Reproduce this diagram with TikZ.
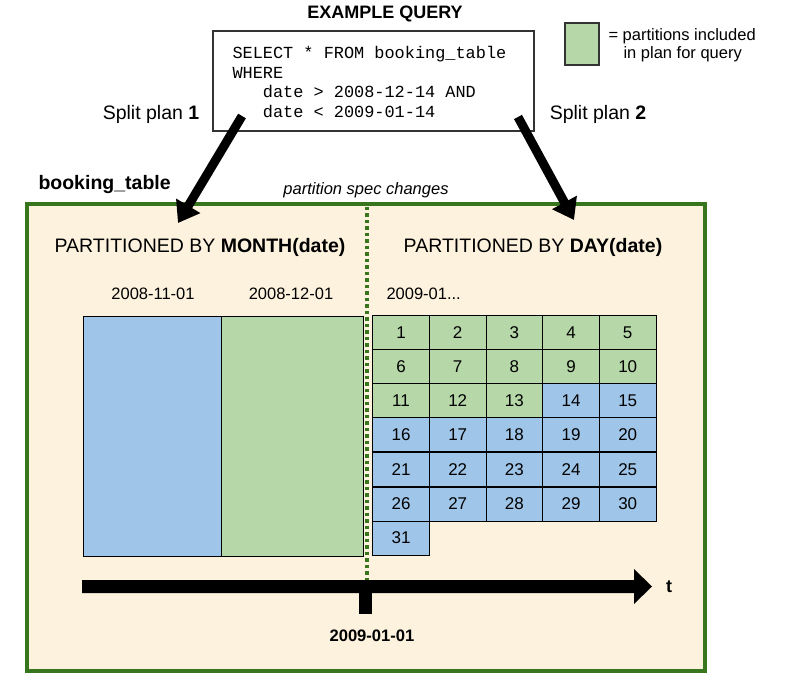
\documentclass[tikz,border=0pt]{standalone}
\usepackage{fontspec}
\setmainfont{Liberation Sans}
\setmonofont{Liberation Mono}
\usetikzlibrary{arrows.meta}
\definecolor{hitgreen}{HTML}{B6D7A8}
\definecolor{skipblue}{HTML}{9FC5E8}
\definecolor{tablebg}{HTML}{FCF2DE}
\definecolor{specgreen}{HTML}{38761D}
\definecolor{inkgrey}{HTML}{333333}
\begin{document}
\begin{tikzpicture}[x=1pt, y=-1pt, draw=black, fill=skipblue, line width=1pt,
	font=\fontsize{17}{20}\selectfont, every node/.style={inner sep=0pt},
	big/.style={font=\fontsize{19.5}{23}\selectfont},
	small/.style={font=\fontsize{16.5}{18.5}\selectfont},
	planarrow/.style={line width=9pt, -{Triangle[width=27pt,length=20pt]}}]
	\fill[white] (0,0) rectangle (790,684);
	\useasboundingbox (0,0) rectangle (790,684);
	% query and legend
	\node[font=\bfseries\fontsize{18}{21}\selectfont] (title) at (385,14) {EXAMPLE QUERY};
	\node[draw=inkgrey, line width=2pt, minimum width=321pt, minimum height=100pt] (query) at (373.5,81) {};
	\node[anchor=north west, align=left, font=\ttfamily\fontsize{16.9}{19.5}\selectfont] (sql) at (232,46)
		{SELECT * FROM booking\_table\\WHERE\\\phantom{xxx}date > 2008-12-14 AND\\\phantom{xxx}date < 2009-01-14};
	\filldraw[fill=hitgreen, draw=inkgrey, line width=1.5pt] (565,23) rectangle (599,65);
	\node[small, anchor=west, align=left] (legend) at (608,45) {= partitions included\\\hspace*{15pt}in plan for query};
	\node[big] (split1) at (151,114) {Split plan \textbf{1}};
	\node[big] (split2) at (598,114) {Split plan \textbf{2}};
	% the table
	\node[big, font=\bfseries\fontsize{19.5}{23}\selectfont, anchor=west] (tname) at (38,185) {booking\_table};
	\node[small, font=\itshape\fontsize{16.5}{18.5}\selectfont] (spec) at (366,190) {partition spec changes};
	\filldraw[fill=tablebg, draw=specgreen, line width=4pt] (27,204) rectangle (705,671);
	\draw[specgreen, line width=3.5pt, dash pattern=on 3.5pt off 3pt] (367,207) -- (367,580);
	\node[big] (month) at (200,247) {PARTITIONED BY \textbf{MONTH(date)}};
	\node[big] (day) at (533,247) {PARTITIONED BY \textbf{DAY(date)}};
	\node[small] (nov) at (153,294) {2008-11-01};
	\node[small] (dec) at (291,294) {2008-12-01};
	\node[small, anchor=west] (jan) at (386,294) {2009-01...};
	\filldraw (83,317) rectangle (221,556);
	\filldraw[fill=hitgreen] (221,317) rectangle (363,556);
	% days of january
	\filldraw[fill=hitgreen] (401,333)   node (d1)  {1}  +(-28.3,-17) rectangle ++(28.3,17);
	\filldraw[fill=hitgreen] (457.7,333) node (d2)  {2}  +(-28.3,-17) rectangle ++(28.3,17);
	\filldraw[fill=hitgreen] (514.3,333) node (d3)  {3}  +(-28.3,-17) rectangle ++(28.3,17);
	\filldraw[fill=hitgreen] (571,333)   node (d4)  {4}  +(-28.3,-17) rectangle ++(28.3,17);
	\filldraw[fill=hitgreen] (627.7,333) node (d5)  {5}  +(-28.3,-17) rectangle ++(28.3,17);
	\filldraw[fill=hitgreen] (401,367)   node (d6)  {6}  +(-28.3,-17) rectangle ++(28.3,17);
	\filldraw[fill=hitgreen] (457.7,367) node (d7)  {7}  +(-28.3,-17) rectangle ++(28.3,17);
	\filldraw[fill=hitgreen] (514.3,367) node (d8)  {8}  +(-28.3,-17) rectangle ++(28.3,17);
	\filldraw[fill=hitgreen] (571,367)   node (d9)  {9}  +(-28.3,-17) rectangle ++(28.3,17);
	\filldraw[fill=hitgreen] (627.7,367) node (d10) {10} +(-28.3,-17) rectangle ++(28.3,17);
	\filldraw[fill=hitgreen] (401,401)   node (d11) {11} +(-28.3,-17) rectangle ++(28.3,17);
	\filldraw[fill=hitgreen] (457.7,401) node (d12) {12} +(-28.3,-17) rectangle ++(28.3,17);
	\filldraw[fill=hitgreen] (514.3,401) node (d13) {13} +(-28.3,-17) rectangle ++(28.3,17);
	\filldraw (571,401)   node (d14) {14} +(-28.3,-17) rectangle ++(28.3,17);
	\filldraw (627.7,401) node (d15) {15} +(-28.3,-17) rectangle ++(28.3,17);
	\filldraw (401,435)   node (d16) {16} +(-28.3,-17) rectangle ++(28.3,17);
	\filldraw (457.7,435) node (d17) {17} +(-28.3,-17) rectangle ++(28.3,17);
	\filldraw (514.3,435) node (d18) {18} +(-28.3,-17) rectangle ++(28.3,17);
	\filldraw (571,435)   node (d19) {19} +(-28.3,-17) rectangle ++(28.3,17);
	\filldraw (627.7,435) node (d20) {20} +(-28.3,-17) rectangle ++(28.3,17);
	\filldraw (401,469.5)   node (d21) {21} +(-28.3,-17) rectangle ++(28.3,17);
	\filldraw (457.7,469.5) node (d22) {22} +(-28.3,-17) rectangle ++(28.3,17);
	\filldraw (514.3,469.5) node (d23) {23} +(-28.3,-17) rectangle ++(28.3,17);
	\filldraw (571,469.5)   node (d24) {24} +(-28.3,-17) rectangle ++(28.3,17);
	\filldraw (627.7,469.5) node (d25) {25} +(-28.3,-17) rectangle ++(28.3,17);
	\filldraw (401,504)   node (d26) {26} +(-28.3,-17) rectangle ++(28.3,17);
	\filldraw (457.7,504) node (d27) {27} +(-28.3,-17) rectangle ++(28.3,17);
	\filldraw (514.3,504) node (d28) {28} +(-28.3,-17) rectangle ++(28.3,17);
	\filldraw (571,504)   node (d29) {29} +(-28.3,-17) rectangle ++(28.3,17);
	\filldraw (627.7,504) node (d30) {30} +(-28.3,-17) rectangle ++(28.3,17);
	\filldraw (401,538)   node (d31) {31} +(-28.3,-17) rectangle ++(28.3,17);
	% time axis
	\fill[black] (82,580) -- (634,580) -- (634,569) -- (652,586.5) -- (634,604) -- (634,593) -- (82,593) -- cycle;
	\fill[black] (359,586) rectangle (372,614);
	\node[font=\bfseries\fontsize{16.6}{19}\selectfont] (cut) at (372,636) {2009-01-01};
	\node[font=\bfseries\fontsize{18}{21}\selectfont] (t) at (669,587) {t};
	% split plans
	\coordinate (q1) at (242,116);
	\coordinate (p1) at (178,223);
	\coordinate (q2) at (518,117);
	\coordinate (p2) at (574,220);
	\draw[planarrow] (q1) -- (p1);
	\draw[planarrow] (q2) -- (p2);
\end{tikzpicture}
\end{document}
